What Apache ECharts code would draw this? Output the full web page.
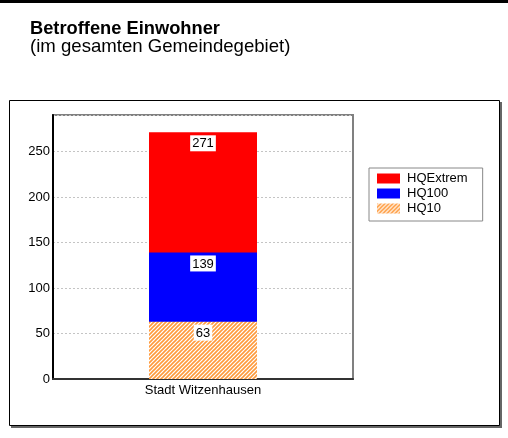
<!DOCTYPE html>
<html><head><meta charset="utf-8">
<script src="https://cdn.jsdelivr.net/npm/echarts@6/dist/echarts.min.js"></script>
<style>html,body{margin:0;padding:0;background:#fff}#c{width:508px;height:438px}</style>
</head><body><div id="c"></div>
<script>
const categories = ['Stadt Witzenhausen'];
const seriesNames = ['HQExtrem', 'HQ100', 'HQ10'];
const hqExtrem = [271];
const hq100 = [139];
const hq10 = [63];
const yTicks = [0, 50, 100, 150, 200, 250];

function hatch() {
  const c = document.createElement('canvas');
  c.width = 4; c.height = 4;
  const g = c.getContext('2d');
  g.fillStyle = '#fff'; g.fillRect(0, 0, 4, 4);
  g.strokeStyle = '#FF9A3C'; g.lineWidth = 1.6;
  g.beginPath();
  g.moveTo(-1, 5); g.lineTo(5, -1);
  g.moveTo(-1, 1); g.lineTo(1, -1);
  g.moveTo(3, 5); g.lineTo(5, 3);
  g.stroke();
  return c;
}
const font = 'Liberation Sans, Arial, sans-serif';
const chart = echarts.init(document.getElementById('c'), null, {renderer: 'canvas'});
const lbl = {show: true, position: 'insideTop', distance: 3, color: '#000', fontSize: 13, fontFamily: font,
  backgroundColor: '#fff', padding: [2, 2, 1, 2]};
chart.setOption({
  animation: false,
  textStyle: {fontFamily: font},
  title: {
    text: 'Betroffene Einwohner', subtext: '(im gesamten Gemeindegebiet)',
    left: 30, top: 20, itemGap: 0, padding: 0,
    textStyle: {fontSize: 18.3, fontWeight: 'bold', color: '#000', fontFamily: font, lineHeight: 18},
    subtextStyle: {fontSize: 18.6, color: '#000', fontFamily: font, lineHeight: 18}
  },
  graphic: [
    {type: 'rect', shape: {x: 0, y: 0, width: 508, height: 3}, style: {fill: '#000'}},
    {type: 'rect', shape: {x: 11, y: 102, width: 491, height: 326}, style: {fill: '#666'}, z: -2},
    {type: 'rect', shape: {x: 9.5, y: 100.5, width: 490, height: 325}, style: {fill: '#fff', stroke: '#000', lineWidth: 1}, z: -1}
  ],
  legend: {
    data: seriesNames, orient: 'vertical', left: 369, top: 168,
    itemWidth: 23, itemHeight: 10, itemGap: 0, padding: [3, 15, 5, 8],
    borderColor: '#888', borderWidth: 1, icon: 'rect',
    textStyle: {fontSize: 13, color: '#000', fontFamily: font, lineHeight: 15, padding: [0, 0, 0, 2]}
  },
  grid: {left: 53, top: 115, right: 155, bottom: 59, show: true, borderColor: '#808080', borderWidth: 2},
  xAxis: {
    type: 'category', data: categories,
    axisLine: {lineStyle: {color: '#333', width: 2}}, axisTick: {show: false},
    axisLabel: {color: '#000', fontSize: 13, margin: 5, fontFamily: font}
  },
  yAxis: {
    type: 'value', min: 0, max: 290, interval: 50,
    axisLine: {show: true, lineStyle: {color: '#000', width: 2}}, axisTick: {show: false},
    axisLabel: {color: '#000', fontSize: 13, margin: 3, showMaxLabel: false, fontFamily: font,
      formatter: v => yTicks.includes(v) ? String(v) : ''},
    splitLine: {show: true, lineStyle: {color: '#c4c4c4', type: [2, 2], width: 1}}
  },
  series: [
    {name: seriesNames[0], type: 'bar', data: hqExtrem, barWidth: 108, barGap: '-100%', itemStyle: {color: '#FF0000'}, label: lbl},
    {name: seriesNames[1], type: 'bar', data: hq100, barWidth: 108, barGap: '-100%', itemStyle: {color: '#0000FF'}, label: lbl},
    {name: seriesNames[2], type: 'bar', data: hq10, barWidth: 108, barGap: '-100%', itemStyle: {color: {image: hatch(), repeat: 'repeat'}}, label: lbl}
  ]
});
</script></body></html>
